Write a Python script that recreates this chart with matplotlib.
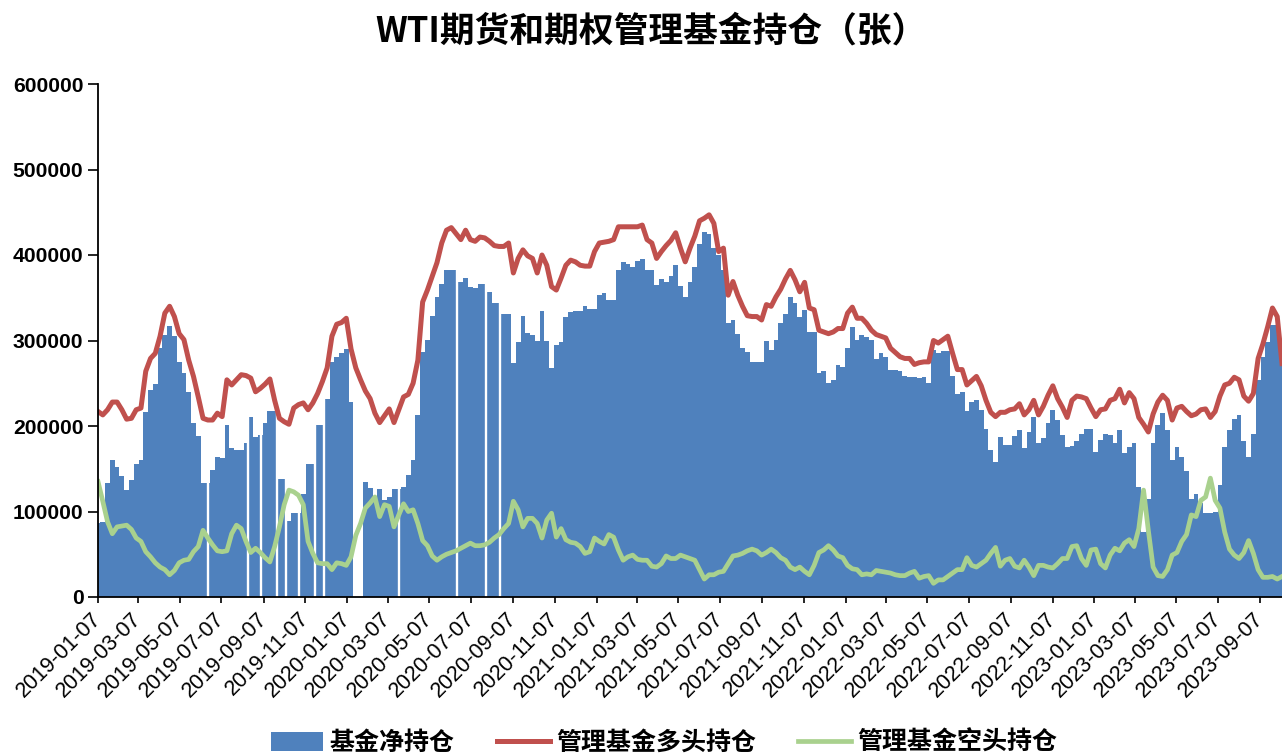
import numpy as np
import pandas as pd
import matplotlib
matplotlib.use('Agg')
import matplotlib.pyplot as plt
import matplotlib.dates as mdates
from matplotlib.patches import Patch
from matplotlib.lines import Line2D

plt.rcParams['font.family'] = ['Noto Sans CJK SC', 'DejaVu Sans']

# weekly data, first date and count
start_date = '2019-01-07'
n_weeks = 249

# 基金净持仓 (thousand contracts), None = no bar
net_k = [
    86, 88, 133, 160, 152, 141, 125, 137, 156, 160,
    216, 242, 249, 291, 307, 317, 305, 275, 262, 240,
    204, 188, 133, 133, 149, 164, 162, 201, 174, 172,
    172, 180, 211, 187, 190, 204, 218, 218, 138, 138,
    89, 98, 98, 121, 156, 156, 201, 201, 231, 275,
    281, 285, 290, 228, None, None, 135, 127, 113, 126,
    113, 117, 126, 126, 129, 143, 160, 213, 287, 301,
    329, 351, 366, 383, 383, 383, 369, 373, 363, 361,
    366, 366, 357, 344, 344, 331, 331, 274, 298, 329,
    309, 307, 299, 335, 300, 268, 295, 298, 328, 333,
    334, 334, 340, 337, 337, 353, 355, 347, 347, 383,
    392, 390, 386, 393, 395, 383, 383, 365, 372, 369,
    375, 388, 364, 351, 369, 386, 413, 427, 425, 408,
    400, 383, 321, 324, 308, 291, 287, 275, 275, 275,
    300, 289, 301, 320, 331, 351, 344, 327, 336, 310,
    310, 262, 264, 250, 254, 271, 269, 291, 316, 301,
    307, 304, 301, 278, 285, 281, 266, 266, 264, 258,
    257, 257, 256, 257, 250, 289, 285, 288, 288, 259,
    238, 240, 217, 228, 230, 219, 197, 172, 158, 187,
    178, 178, 188, 195, 174, 193, 211, 180, 186, 203,
    219, 207, 190, 176, 177, 182, 191, 197, 197, 170,
    184, 191, 190, 180, 195, 168, 176, 180, 129, 76,
    115, 180, 201, 215, 195, 160, 176, 164, 147, 115,
    121, 110, 98, 98, 99, 131, 176, 195, 208, 213,
    182, 164, 191, 254, 281, 298, 318, 318, 285,
]

# 管理基金多头持仓
long_k = [
    217, 213, 219, 228, 228, 219, 208, 209, 219, 221,
    264, 279, 285, 305, 332, 340, 328, 308, 301, 277,
    258, 234, 209, 207, 207, 215, 211, 254, 248, 254,
    260, 259, 256, 240, 244, 249, 255, 230, 209, 205,
    202, 221, 225, 227, 219, 227, 238, 252, 268, 305,
    319, 321, 326, 290, 268, 254, 241, 232, 215, 204,
    212, 220, 204, 219, 234, 237, 250, 277, 345, 359,
    375, 391, 414, 429, 432, 425, 418, 429, 418, 416,
    421, 420, 416, 411, 410, 410, 414, 379, 396, 406,
    399, 396, 379, 400, 388, 363, 359, 373, 388, 394,
    392, 388, 387, 387, 404, 414, 415, 416, 418, 433,
    433, 433, 433, 433, 435, 418, 414, 396, 404, 411,
    417, 426, 408, 392, 408, 422, 440, 443, 447, 437,
    404, 408, 353, 369, 353, 340, 329, 328, 328, 324,
    342, 340, 351, 360, 372, 382, 371, 357, 368, 338,
    336, 312, 310, 308, 310, 314, 314, 332, 339, 326,
    326, 320, 312, 307, 305, 303, 291, 286, 281, 279,
    279, 272, 274, 275, 275, 300, 297, 301, 305, 285,
    266, 266, 248, 253, 258, 247, 230, 216, 211, 216,
    216, 219, 220, 226, 213, 219, 230, 213, 223, 236,
    247, 232, 222, 210, 230, 235, 234, 232, 221, 211,
    219, 220, 230, 232, 243, 227, 239, 232, 210, 202,
    193, 214, 228, 236, 230, 207, 221, 223, 217, 212,
    214, 219, 220, 210, 217, 235, 248, 250, 257, 254,
    235, 229, 238, 279, 296, 316, 338, 328, 273,
]

# 管理基金空头持仓
short_k = [
    135, 112, 88, 74, 82, 83, 84, 79, 69, 65,
    53, 47, 40, 35, 32, 26, 31, 40, 43, 44,
    53, 59, 78, 69, 61, 54, 53, 54, 74, 84,
    80, 65, 52, 57, 52, 46, 41, 59, 82, 108,
    125, 123, 119, 108, 65, 51, 40, 39, 39, 32,
    40, 39, 37, 47, 72, 86, 104, 110, 117, 94,
    108, 106, 82, 96, 109, 100, 102, 86, 66, 60,
    48, 43, 47, 50, 52, 54, 57, 60, 63, 60,
    60, 61, 64, 69, 73, 80, 86, 112, 102, 82,
    92, 92, 86, 69, 90, 98, 70, 80, 67, 64,
    63, 59, 51, 53, 69, 65, 62, 73, 70, 55,
    43, 47, 49, 44, 43, 43, 36, 35, 39, 48,
    45, 45, 49, 47, 45, 43, 32, 21, 26, 26,
    29, 30, 39, 48, 49, 51, 54, 56, 54, 49,
    52, 56, 52, 46, 43, 35, 32, 35, 30, 26,
    37, 52, 55, 60, 55, 48, 46, 37, 33, 32,
    26, 27, 26, 31, 30, 29, 28, 26, 25, 25,
    28, 30, 22, 24, 25, 16, 20, 20, 24, 28,
    32, 32, 46, 37, 35, 39, 43, 51, 58, 36,
    43, 45, 36, 34, 43, 35, 25, 37, 37, 35,
    34, 39, 45, 45, 59, 60, 45, 37, 55, 56,
    39, 34, 49, 57, 54, 63, 67, 59, 80, 125,
    78, 35, 25, 24, 32, 49, 52, 65, 73, 96,
    94, 113, 117, 139, 113, 104, 76, 56, 49, 45,
    52, 66, 51, 32, 23, 23, 24, 21, 24,
]

# thin white breaks between bars seen in the chart
gap_dates = ['2019-06-17', '2019-08-15', '2019-09-03', '2019-09-26',
             '2019-10-10', '2019-10-29', '2019-11-21', '2019-12-04',
             '2020-03-24', '2020-06-17', '2020-07-29', '2020-08-19']

title = 'WTI期货和期权管理基金持仓（张）'
labels = ['基金净持仓', '管理基金多头持仓', '管理基金空头持仓']
colors = ['#4F81BD', '#C0504D', '#A9D18E']

dates = pd.date_range(start_date, periods=n_weeks, freq='7D')
x = mdates.date2num(dates.to_pydatetime())
net = np.array([np.nan if v is None else v for v in net_k], dtype=float) * 1000
long_pos = np.array(long_k, dtype=float) * 1000
short_pos = np.array(short_k, dtype=float) * 1000

W, H = 1282, 756
fig = plt.figure(figsize=(W / 100, H / 100), dpi=100)
ax = fig.add_axes([98 / W, 1 - 597 / H, 1 - 98 / W, (597 - 84) / H])

ax.bar(x, np.nan_to_num(net), width=7, color=colors[0], linewidth=0, zorder=1)
for g in gap_dates:
    ax.axvline(mdates.datestr2num(g), color='white', lw=1.7, zorder=2)
ax.plot(x, long_pos, color=colors[1], lw=3.6, zorder=3, solid_joinstyle='round')
ax.plot(x, short_pos, color=colors[2], lw=3.4, zorder=4, solid_joinstyle='round')

ax.set_xlim(x[0], x[-1])
ax.set_ylim(0, 600000)

ticks = pd.date_range(start_date, periods=29, freq=pd.DateOffset(months=2))
ax.set_xticks(mdates.date2num(ticks.to_pydatetime()))
ax.set_xticklabels([t.strftime('%Y-%m-%d') for t in ticks], rotation=45,
                   ha='right', va='center', rotation_mode='anchor',
                   fontsize=15.5, family='Liberation Sans')
yt = np.arange(0, 600001, 100000)
ax.set_yticks(yt)
ax.set_yticklabels([str(v) for v in yt], fontsize=15.2, family='Liberation Sans',
                   weight='bold')
ax.tick_params(axis='x', direction='out', length=4.5, width=1.2, pad=9)
ax.tick_params(axis='y', direction='out', length=7.5, width=1.2, pad=3)
for s in ['top', 'right']:
    ax.spines[s].set_visible(False)
for s in ['left', 'bottom']:
    ax.spines[s].set_linewidth(1.3)
    ax.spines[s].set_zorder(5)

fig.text(651 / W, 1 - 31 / H, title, ha='center', va='center',
         fontsize=25, weight='bold')

handles = [Patch(facecolor=colors[0], edgecolor='none'),
           Line2D([], [], color=colors[1], lw=3.6),
           Line2D([], [], color=colors[2], lw=3.4)]
fig.legend(handles, labels, loc='center', bbox_to_anchor=(664 / W, 1 - 743 / H),
           ncol=3, frameon=False, prop={'size': 18, 'weight': 'bold'},
           handlelength=2.1, handleheight=0.75, handletextpad=0.25,
           columnspacing=1.7)

fig.savefig('out.png', dpi=100)
